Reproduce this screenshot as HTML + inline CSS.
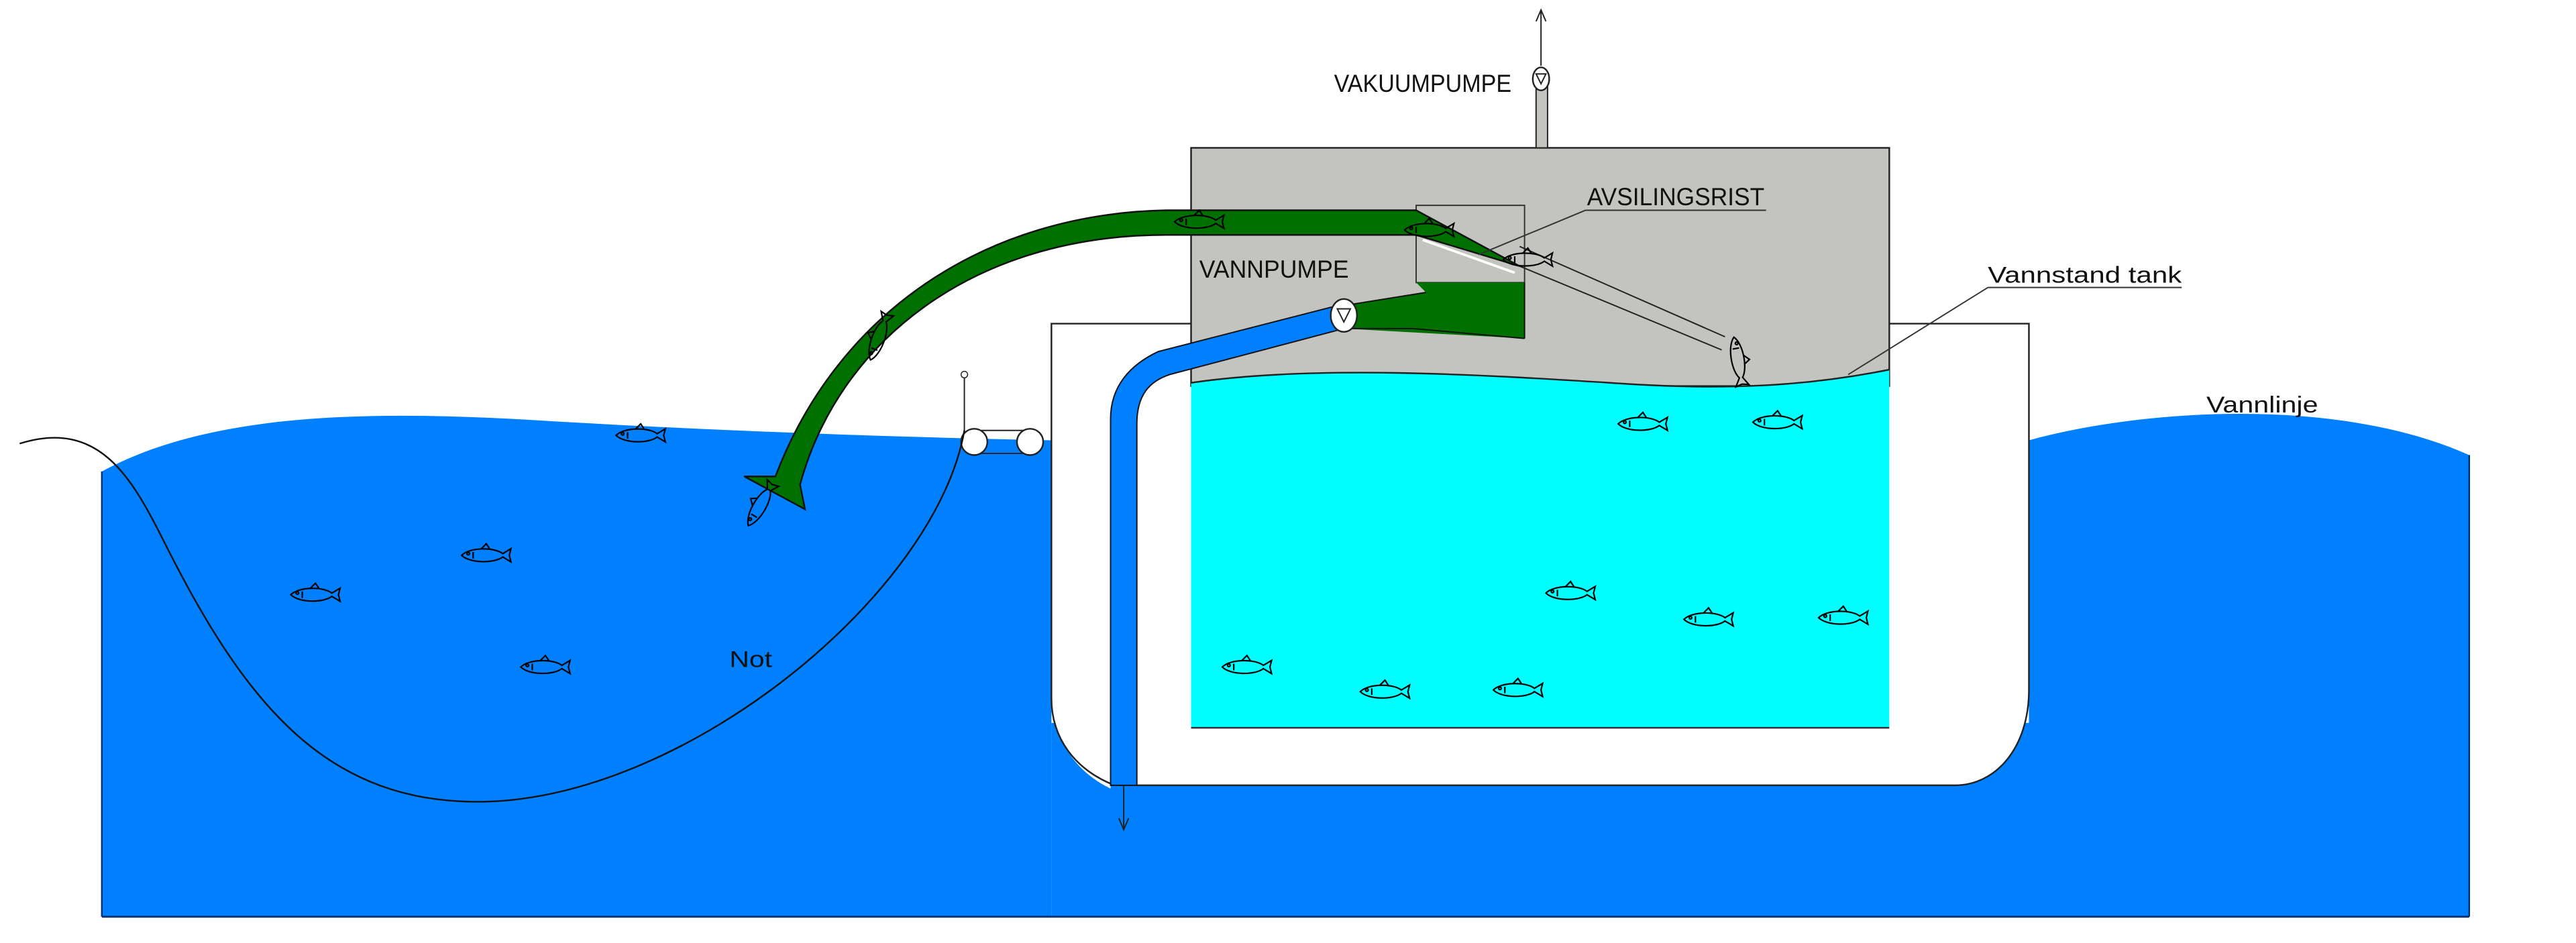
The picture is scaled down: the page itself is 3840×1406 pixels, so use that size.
<!DOCTYPE html>
<html><head><meta charset="utf-8"><style>
html,body{margin:0;padding:0;background:#fff;}
svg{display:block}
text{font-family:"Liberation Sans",sans-serif;fill:#111}
</style></head><body>
<svg width="3840" height="1406" viewBox="0 0 1568 574" preserveAspectRatio="none" xmlns="http://www.w3.org/2000/svg">
<defs>
<g id="fish" fill="none" stroke="#000" stroke-width="0.9">
<path d="M-15,0 C-10,-5 5,-5 10,-1 L15,-4 L14,0 L15,4 L10,1 C5,5 -10,5 -15,0 Z"/>
<path d="M-3,-4 L0,-7 L2,-4"/><circle cx="-11" cy="-1" r="0.8"/><path d="M-8,-2 L-8,2"/>
</g>
</defs>
<!-- sea left -->
<path d="M62,287 C130,250 230,250 330,256 C430,262 540,266 640,268 L640,558 L62,558 Z" fill="#0080ff"/>
<rect x="640" y="440" width="600" height="118" fill="#0080ff"/>
<path d="M1235,268 C1300,250 1420,240 1503,277 L1503,558 L1235,558 Z" fill="#0080ff"/>
<line x1="62" y1="558" x2="1503" y2="558" stroke="#003070" stroke-width="1.2"/>
<line x1="62" y1="287" x2="62" y2="558" stroke="#003070" stroke-width="1"/>
<line x1="1503" y1="277" x2="1503" y2="558" stroke="#003070" stroke-width="1"/>
<!-- hull -->
<path d="M640,197 L725,197 L725,230 L1150,230 L1150,197 L1235,197 L1235,420 C1235,455 1215,478 1190,478 L692,478 L692,470 L676,470 L676,480 C655,470 640,450 640,420 Z" fill="#fff"/>
<path d="M725,197 L640,197 L640,425 C640,450 655,468 676,477" fill="none" stroke="#222" stroke-width="1"/>
<path d="M1150,197 L1235,197 L1235,420 C1235,455 1215,478 1190,478 L692,478" fill="none" stroke="#222" stroke-width="1"/>
<!-- gray box -->
<rect x="725" y="90" width="425" height="145" fill="#c3c4c0" stroke="#222" stroke-width="1"/>
<!-- tank water -->
<path d="M725,233 C800,222 900,228 980,233 C1050,238 1100,235 1150,225 L1150,443 L725,443 Z" fill="#00ffff"/>
<path d="M725,233 C800,222 900,228 980,233 C1050,238 1100,235 1150,225" fill="none" stroke="#222" stroke-width="1"/>
<line x1="725" y1="443" x2="1150" y2="443" stroke="#333" stroke-width="1"/>
<!-- vacuum pipe -->
<rect x="935" y="52" width="7" height="38" fill="#c3c4c0" stroke="#222" stroke-width="0.8"/>
<ellipse cx="938" cy="48" rx="5" ry="7" fill="#fff" stroke="#222"/>
<path d="M935,45 L941,45 L938,51 Z" fill="none" stroke="#222" stroke-width="0.8"/>
<line x1="938" y1="40" x2="938" y2="6" stroke="#222" stroke-width="0.8"/>
<path d="M935,13 L938,6 L941,13" fill="none" stroke="#222" stroke-width="0.8"/>
<!-- small box -->
<rect x="862" y="125" width="66" height="47" fill="#c3c4c0" stroke="#333" stroke-width="0.8"/>
<!-- green pipe -->
<path d="M862,128 L710,128 C600,130 510,190 472,290 L453,290 L490,310 L487,295 C510,210 590,143 710,143 L862,143 L925,162 Z" fill="#007000" stroke="#111" stroke-width="1"/>
<line x1="866" y1="146" x2="922" y2="166" stroke="#fff" stroke-width="1.5"/>
<!-- lower green -->
<path d="M862,172 L928,172 L928,206 L818,200 L818,186 L868,178 Z" fill="#007000"/>
<path d="M868,178 L818,186 M928,172 L928,206 M928,206 L860,200 L818,200" fill="none" stroke="#111" stroke-width="0.8"/>
<!-- blue pipe -->
<path d="M818,185 L705,214 C688,222 676,235 676,255 L676,478 L692,478 L692,258 C692,240 700,232 712,228 L818,200 Z" fill="#0080ff" stroke="#111" stroke-width="0.8"/>
<ellipse cx="818" cy="192" rx="8" ry="10" fill="#fff" stroke="#222"/>
<path d="M814,188 L822,188 L818,196 Z" fill="none" stroke="#222" stroke-width="0.8"/>
<line x1="684" y1="478" x2="684" y2="505" stroke="#222" stroke-width="0.8"/>
<path d="M681,498 L684,505 L687,498" fill="none" stroke="#222" stroke-width="0.8"/>
<!-- grating lines -->
<line x1="925" y1="150" x2="1050" y2="205" stroke="#222" stroke-width="0.8"/>
<line x1="925" y1="162" x2="1048" y2="213" stroke="#222" stroke-width="0.8"/>
<!-- floats & net -->
<line x1="587" y1="228" x2="587" y2="268" stroke="#222" stroke-width="0.8"/>
<circle cx="587" cy="228" r="2" fill="#fff" stroke="#222" stroke-width="0.6"/>
<line x1="593" y1="262" x2="627" y2="262" stroke="#222" stroke-width="0.8"/>
<line x1="593" y1="276" x2="627" y2="276" stroke="#222" stroke-width="0.8"/>
<ellipse cx="593" cy="269" rx="8" ry="8" fill="#fff" stroke="#222"/>
<ellipse cx="627" cy="269" rx="8" ry="8" fill="#fff" stroke="#222"/>
<path d="M12,270 C60,255 80,290 100,330 C150,430 200,490 295,488 C420,485 570,360 587,262" fill="none" stroke="#111" stroke-width="1"/>
<!-- leaders -->
<path d="M965,128 L1075,128 M965,128 L900,155" fill="none" stroke="#333" stroke-width="0.8"/>
<path d="M1210,175 L1328,175 M1210,175 L1125,228" fill="none" stroke="#333" stroke-width="0.8"/>
<!-- fish -->
<use href="#fish" x="390" y="265"/>
<use href="#fish" x="296" y="338"/>
<use href="#fish" x="192" y="362"/>
<use href="#fish" x="332" y="406"/>
<use href="#fish" x="1000" y="258"/>
<use href="#fish" x="1082" y="257"/>
<use href="#fish" x="956" y="361"/>
<use href="#fish" x="1040" y="377"/>
<use href="#fish" x="1122" y="376"/>
<use href="#fish" x="759" y="406"/>
<use href="#fish" x="843" y="421"/>
<use href="#fish" x="924" y="420"/>
<use href="#fish" x="730" y="135"/>
<use href="#fish" x="870" y="140"/>
<use href="#fish" x="930" y="158"/>
<use href="#fish" transform="translate(535,205) rotate(-70)"/>
<use href="#fish" transform="translate(463,307) rotate(-60)"/>
<use href="#fish" transform="translate(1058,220) rotate(80)"/>
<!-- labels -->
<text x="812" y="56" font-size="15" textLength="108" lengthAdjust="spacingAndGlyphs">VAKUUMPUMPE</text>
<text x="966" y="125" font-size="15" textLength="108" lengthAdjust="spacingAndGlyphs">AVSILINGSRIST</text>
<text x="730" y="169" font-size="15" textLength="91" lengthAdjust="spacingAndGlyphs">VANNPUMPE</text>
<text x="1210" y="172" font-size="14" textLength="118" lengthAdjust="spacingAndGlyphs">Vannstand tank</text>
<text x="1343" y="251" font-size="14" textLength="68" lengthAdjust="spacingAndGlyphs">Vannlinje</text>
<text x="444" y="406" font-size="14" textLength="26" lengthAdjust="spacingAndGlyphs">Not</text>
</svg>
</body></html>
